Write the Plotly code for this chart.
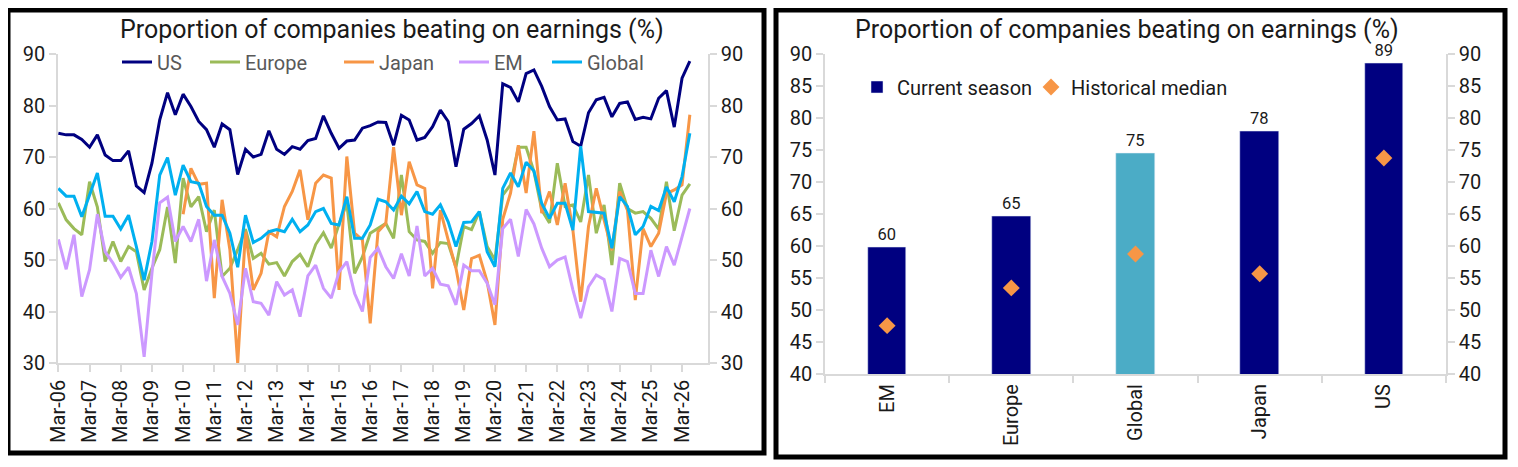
import plotly.graph_objects as go

# ---------------- data ----------------
months = ["Mar", "Jun", "Sep", "Dec"]
quarters = [f"{m}-{y % 100:02d}" for y in range(2006, 2027) for m in months][:82]
year_ticks = [q for q in quarters if q.startswith("Mar")]

us = [74.6, 74.3, 74.3, 73.4, 71.9, 74.3, 70.4, 69.3, 69.3, 71.2, 64.4, 63.1, 68.8, 77.2, 82.5, 78.2,
      82.2, 79.8, 76.9, 75.3, 71.9, 76.4, 75.3, 66.6, 71.5, 70.0, 70.5, 75.1, 71.5, 70.5, 72.0, 71.5,
      73.2, 73.6, 78.0, 74.6, 71.7, 73.1, 73.3, 75.6, 76.1, 76.8, 76.7, 72.3, 78.1, 77.2, 73.3, 73.8,
      75.9, 79.1, 76.9, 68.1, 75.4, 76.5, 78.0, 73.3, 66.5, 84.2, 83.5, 80.7, 86.2, 86.9, 83.7, 79.8,
      77.2, 77.4, 73.0, 72.1, 78.6, 81.1, 81.6, 77.8, 80.4, 80.7, 77.3, 77.7, 77.4, 81.4, 82.9, 75.8,
      85.3, 88.6]
europe = [61.1, 57.8, 56.1, 54.9, 65.2, 60.3, 49.7, 53.6, 49.7, 52.6, 51.6, 44.2, 48.4, 52.0, 60.3, 49.4,
          65.9, 60.3, 62.3, 55.5, 59.7, 46.8, 48.4, 52.0, 56.0, 50.3, 51.3, 49.2, 49.5, 46.9, 49.7, 51.1,
          48.7, 53.0, 55.3, 52.3, 57.0, 61.0, 47.4, 50.6, 55.2, 56.1, 57.1, 54.2, 66.5, 55.5, 53.9, 53.6,
          51.3, 53.4, 53.2, 48.6, 56.5, 55.9, 59.4, 52.6, 50.0, 62.6, 64.6, 71.9, 71.9, 67.2, 59.7, 57.2,
          68.8, 60.4, 60.7, 57.4, 66.5, 55.2, 60.7, 49.0, 64.9, 60.0, 59.1, 59.4, 58.1, 56.0, 65.2, 55.7,
          62.6, 64.8]
japan = [None] * 16 + [
         58.9, 67.8, 64.7, 64.9, 42.6, 61.7, 52.0, 29.9, 55.5, 44.2, 47.4, 55.5, 54.5, 60.4, 63.3, 67.5,
         57.8, 64.9, 66.5, 65.9, 44.2, 70.1, 55.2, 53.9, 37.7, 55.5, 57.1, 71.9, 58.7, 69.1, 64.6, 63.9,
         44.5, 59.7, 53.9, 48.4, 40.3, 50.3, 50.9, 45.8, 37.4, 57.9, 63.0, 72.3, 63.0, 75.0, 59.1, 63.3,
         56.8, 64.9, 55.8, 41.9, 56.5, 63.9, 57.8, 51.9, 63.3, 59.7, 42.2, 56.1, 52.6, 55.2, 62.9, 63.6,
         64.6, 78.2]
em = [54.0, 48.2, 54.9, 42.9, 48.1, 58.9, 51.6, 49.4, 46.6, 48.6, 43.5, 31.2, 47.4, 61.1, 62.2, 53.6,
      56.5, 53.6, 57.9, 45.9, 53.9, 46.8, 43.5, 37.4, 48.4, 41.9, 41.6, 39.3, 45.8, 43.2, 44.2, 39.0,
      46.9, 49.0, 44.5, 42.6, 47.7, 49.7, 43.5, 40.0, 50.5, 52.3, 48.7, 46.4, 51.2, 46.9, 56.6, 46.9,
      48.4, 45.3, 45.0, 41.3, 49.0, 47.9, 47.9, 45.5, 41.3, 56.1, 57.9, 50.7, 59.8, 57.0, 52.3, 48.7,
      50.0, 50.6, 44.2, 38.7, 44.8, 47.1, 46.2, 40.0, 50.3, 49.7, 43.5, 43.5, 51.9, 46.8, 52.6, 49.0,
      54.5, 60.0]
global_ = [63.9, 62.4, 62.4, 58.4, 62.6, 66.9, 58.5, 58.5, 56.0, 58.7, 52.6, 46.1, 53.6, 66.5, 69.9, 62.6,
           68.4, 65.2, 64.9, 60.4, 58.7, 58.7, 55.2, 48.6, 58.7, 53.4, 54.2, 55.5, 55.9, 55.5, 57.9, 55.5,
           56.8, 59.4, 60.0, 57.1, 56.8, 62.3, 54.2, 54.2, 56.8, 61.8, 61.3, 59.7, 62.4, 60.9, 63.3, 59.4,
           58.9, 60.7, 57.4, 52.6, 57.3, 57.4, 59.4, 51.6, 48.7, 63.9, 66.9, 64.2, 69.0, 67.3, 61.0, 58.1,
           61.0, 61.0, 55.8, 72.1, 59.4, 59.2, 59.1, 52.3, 62.3, 60.4, 54.9, 56.5, 60.4, 59.6, 64.2, 61.3,
           66.2, 74.6]

regions = ["EM", "Europe", "Global", "Japan", "US"]
current_season = [59.9, 64.7, 74.6, 78.0, 88.6]
historical_median = [47.6, 53.5, 58.8, 55.7, 73.8]

# ---------------- style ----------------
W, H = 1518, 467
OFF = 8  # page body margin offset
FONT = "Roboto"
AXIS_GREY = "#d9d9d9"
TXT = "#1a1a1a"
LEG_TXT = "#595959"
NAVY = "#000080"


def px_x(p):
    return (p - OFF) / W


def px_y(p):
    return 1 - (p - OFF) / H


fig = go.Figure()

series = [("US", us, NAVY, 117), ("Europe", europe, "#9bbb59", 205), ("Japan", japan, "#f79646", 339),
          ("EM", em, "#cc99ff", 454), ("Global", global_, "#00b0f0", 547)]
legend_layout = {}
for k, (name, vals, col, lx) in enumerate(series):
    lname = f"legend{k + 3}"
    fig.add_trace(go.Scatter(x=quarters, y=vals, name=name, mode="lines",
                             line=dict(color=col, width=3), xaxis="x", yaxis="y",
                             legend=lname, connectgaps=False))
    legend_layout[lname] = dict(orientation="h", x=px_x(lx), xanchor="left", y=px_y(62), yanchor="middle",
                                font=dict(family=FONT, size=20, color=LEG_TXT), bgcolor="rgba(0,0,0,0)",
                                itemwidth=30)
# invisible trace to activate right axis of left panel
fig.add_trace(go.Scatter(x=quarters, y=us, mode="lines", line=dict(width=0, color="rgba(0,0,0,0)"),
                         xaxis="x", yaxis="y2", showlegend=False, hoverinfo="skip"))

bar_colors = [NAVY, NAVY, "#4bacc6", NAVY, NAVY]
fig.add_trace(go.Bar(x=regions, y=current_season, name="Current season", marker_color=bar_colors,
                     width=0.31, xaxis="x2", yaxis="y3", legend="legend",
                     texttemplate="%{y:.0f}", textposition="outside", cliponaxis=False,
                     textfont=dict(family=FONT, size=16.5, color=TXT)))
fig.add_trace(go.Scatter(x=regions, y=historical_median, name="Historical median", mode="markers",
                         marker=dict(symbol="diamond", size=13, color="#f79646"),
                         xaxis="x2", yaxis="y3", legend="legend2"))
fig.add_trace(go.Scatter(x=regions, y=historical_median, mode="markers", marker=dict(opacity=0),
                         xaxis="x2", yaxis="y4", showlegend=False, hoverinfo="skip"))

tickfont = dict(family=FONT, size=20, color=TXT)
common_axis = dict(showgrid=False, zeroline=False, showline=True, linecolor=AXIS_GREY, linewidth=1.5,
                   ticks="outside", ticklen=7, tickcolor=AXIS_GREY, tickwidth=1.5, tickfont=tickfont,
                   automargin=False)

left_dom_y = [px_y(363), px_y(54)]
right_dom_y = [px_y(374.3), px_y(54.3)]

fig.update_layout(
    width=W, height=H, margin=dict(l=0, r=0, t=0, b=0, autoexpand=False),
    paper_bgcolor="white", plot_bgcolor="white",
    font=dict(family=FONT, color=TXT),
    bargap=0,
    xaxis=dict(domain=[px_x(58), px_x(708)], anchor="y", type="category",
               categoryorder="array", categoryarray=quarters,
               range=[-0.05, 83.33], tickmode="array", tickvals=year_ticks, ticktext=year_ticks,
               tickangle=-90, **common_axis),
    yaxis=dict(domain=left_dom_y, anchor="x", range=[30, 90], dtick=10, **common_axis),
    yaxis2=dict(overlaying="y", side="right", anchor="x", range=[30, 90], dtick=10, **common_axis),
    xaxis2=dict(domain=[px_x(825), px_x(1446)], anchor="y3", type="category",
                range=[-0.5, 4.5], tickson="boundaries", tickangle=-90, **common_axis),
    yaxis3=dict(domain=right_dom_y, anchor="x2", range=[40, 90], dtick=5, **common_axis),
    yaxis4=dict(overlaying="y3", side="right", anchor="x2", range=[40, 90], dtick=5, **common_axis),
    legend=dict(orientation="h", x=px_x(857), xanchor="left", y=px_y(87), yanchor="middle",
                font=dict(family=FONT, size=20, color=TXT), bgcolor="rgba(0,0,0,0)", itemwidth=30),
    legend2=dict(orientation="h", x=px_x(1031), xanchor="left", y=px_y(87), yanchor="middle",
                 font=dict(family=FONT, size=20, color=TXT), bgcolor="rgba(0,0,0,0)", itemwidth=30),
    showlegend=True,
    **legend_layout,
)

title = "Proportion of companies beating on earnings (%)"
for cx in (392, 1127):
    fig.add_annotation(text=title, x=px_x(cx), y=px_y(29), xref="paper", yref="paper",
                       xanchor="center", yanchor="middle", showarrow=False,
                       font=dict(family=FONT, size=25, color=TXT))

# panel frames
for x0, y0, x1, y1 in [(8, 10, 764, 453), (776, 10, 1505, 457)]:
    fig.add_shape(type="rect", xref="paper", yref="paper",
                  x0=px_x(x0), x1=px_x(x1), y0=px_y(y1), y1=px_y(y0),
                  line=dict(color="black", width=5), fillcolor="rgba(0,0,0,0)")

fig.write_html("out.html")
